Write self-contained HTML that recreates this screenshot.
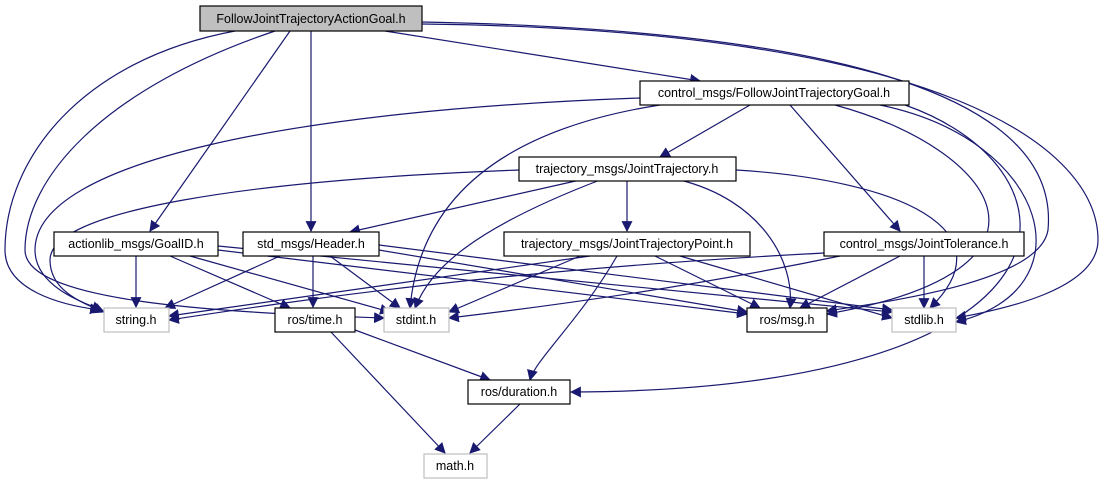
<!DOCTYPE html>
<html><head><meta charset="utf-8"><style>
html,body{margin:0;padding:0;background:#fff;}
svg{display:block;}
text{font-family:"Liberation Sans",sans-serif;font-size:12.5px;fill:#000;}
</style></head><body>
<svg width="1106" height="485" viewBox="0 0 1106 485" xmlns="http://www.w3.org/2000/svg">
<defs><marker id="a" viewBox="0 0 10 10" refX="9" refY="5" markerWidth="11" markerHeight="11" markerUnits="userSpaceOnUse" orient="auto"><path d="M0,0 L10,5 L0,10 z" fill="#191970"/></marker></defs>
<g fill="none" stroke="#191970" stroke-width="1.2" marker-end="url(#a)">
<path d="M290,31 L150,231"/>
<path d="M311,31 L311,231"/>
<path d="M385,31 L700,81"/>
<path d="M235,31 C80,60 5,160 5,250 C5,290 60,305 100,310"/>
<path d="M275,31 C100,90 25,180 25,250 C25,300 200,312 384,318"/>
<path d="M422,22 C850,30 1060,100 1048,230 C1040,280 900,300 827,311"/>
<path d="M422,24 C950,30 1098,150 1098,240 C1098,290 1000,310 956,318"/>
<path d="M750,105 L660,157"/>
<path d="M790,105 L900,231"/>
<path d="M640,98 C300,110 35,160 35,250 C35,285 80,302 102,310"/>
<path d="M660,105 C500,130 420,200 410,308"/>
<path d="M835,105 C1000,150 1080,270 827,314"/>
<path d="M880,105 C1050,140 1090,290 956,322"/>
<path d="M905,105 C1090,170 1100,390 571,392"/>
<path d="M580,180 L350,232"/>
<path d="M627,180 L627,231"/>
<path d="M519,170 C250,180 50,210 50,260 C50,290 80,302 104,312"/>
<path d="M600,180 C470,230 430,270 415,308"/>
<path d="M680,180 C760,200 795,260 790,308"/>
<path d="M736,170 C900,180 1010,230 930,308"/>
<path d="M136,256 L136,307"/>
<path d="M170,256 L290,308"/>
<path d="M190,256 L390,312"/>
<path d="M218,250 L747,314"/>
<path d="M218,246 L892,312"/>
<path d="M280,256 L165,308"/>
<path d="M313,256 L313,307"/>
<path d="M330,256 L400,308"/>
<path d="M379,250 L747,312"/>
<path d="M379,245 L892,310"/>
<path d="M590,256 L169,316"/>
<path d="M580,256 L449,312"/>
<path d="M655,256 L760,308"/>
<path d="M680,256 L892,318"/>
<path d="M617,256 C580,320 535,360 530,380"/>
<path d="M824,253 C500,270 300,300 169,320"/>
<path d="M840,256 C700,285 560,305 449,318"/>
<path d="M900,256 L800,308"/>
<path d="M924,256 L924,308"/>
<path d="M355,330 L490,380"/>
<path d="M330,331 L445,453"/>
<path d="M520,404 L470,453"/>
</g>
<g stroke-width="1.2">
<rect x="200" y="6" width="222" height="25" fill="#bfbfbf" stroke="#000"/>
<rect x="640" y="81" width="269" height="24" fill="#fff" stroke="#000"/>
<rect x="519" y="157" width="217" height="24" fill="#fff" stroke="#000"/>
<rect x="54" y="232" width="164" height="24" fill="#fff" stroke="#000"/>
<rect x="243" y="232" width="136" height="24" fill="#fff" stroke="#000"/>
<rect x="504" y="232" width="246" height="24" fill="#fff" stroke="#000"/>
<rect x="824" y="232" width="200" height="24" fill="#fff" stroke="#000"/>
<rect x="104" y="308" width="65" height="24" fill="#fff" stroke="#bfbfbf"/>
<rect x="275" y="308" width="80" height="24" fill="#fff" stroke="#000"/>
<rect x="384" y="308" width="65" height="24" fill="#fff" stroke="#bfbfbf"/>
<rect x="747" y="308" width="80" height="24" fill="#fff" stroke="#000"/>
<rect x="892" y="308" width="64" height="24" fill="#fff" stroke="#bfbfbf"/>
<rect x="468" y="380" width="102" height="24" fill="#fff" stroke="#000"/>
<rect x="424" y="454" width="63" height="24" fill="#fff" stroke="#bfbfbf"/>
</g>
<g text-anchor="middle">
<text x="311" y="23">FollowJointTrajectoryActionGoal.h</text>
<text x="774" y="97">control_msgs/FollowJointTrajectoryGoal.h</text>
<text x="627" y="173">trajectory_msgs/JointTrajectory.h</text>
<text x="136" y="248">actionlib_msgs/GoalID.h</text>
<text x="311" y="248">std_msgs/Header.h</text>
<text x="627" y="248">trajectory_msgs/JointTrajectoryPoint.h</text>
<text x="924" y="248">control_msgs/JointTolerance.h</text>
<text x="136" y="324">string.h</text>
<text x="315" y="324">ros/time.h</text>
<text x="416" y="324">stdint.h</text>
<text x="787" y="324">ros/msg.h</text>
<text x="924" y="324">stdlib.h</text>
<text x="519" y="396">ros/duration.h</text>
<text x="455" y="470">math.h</text>
</g>
</svg>
</body></html>
